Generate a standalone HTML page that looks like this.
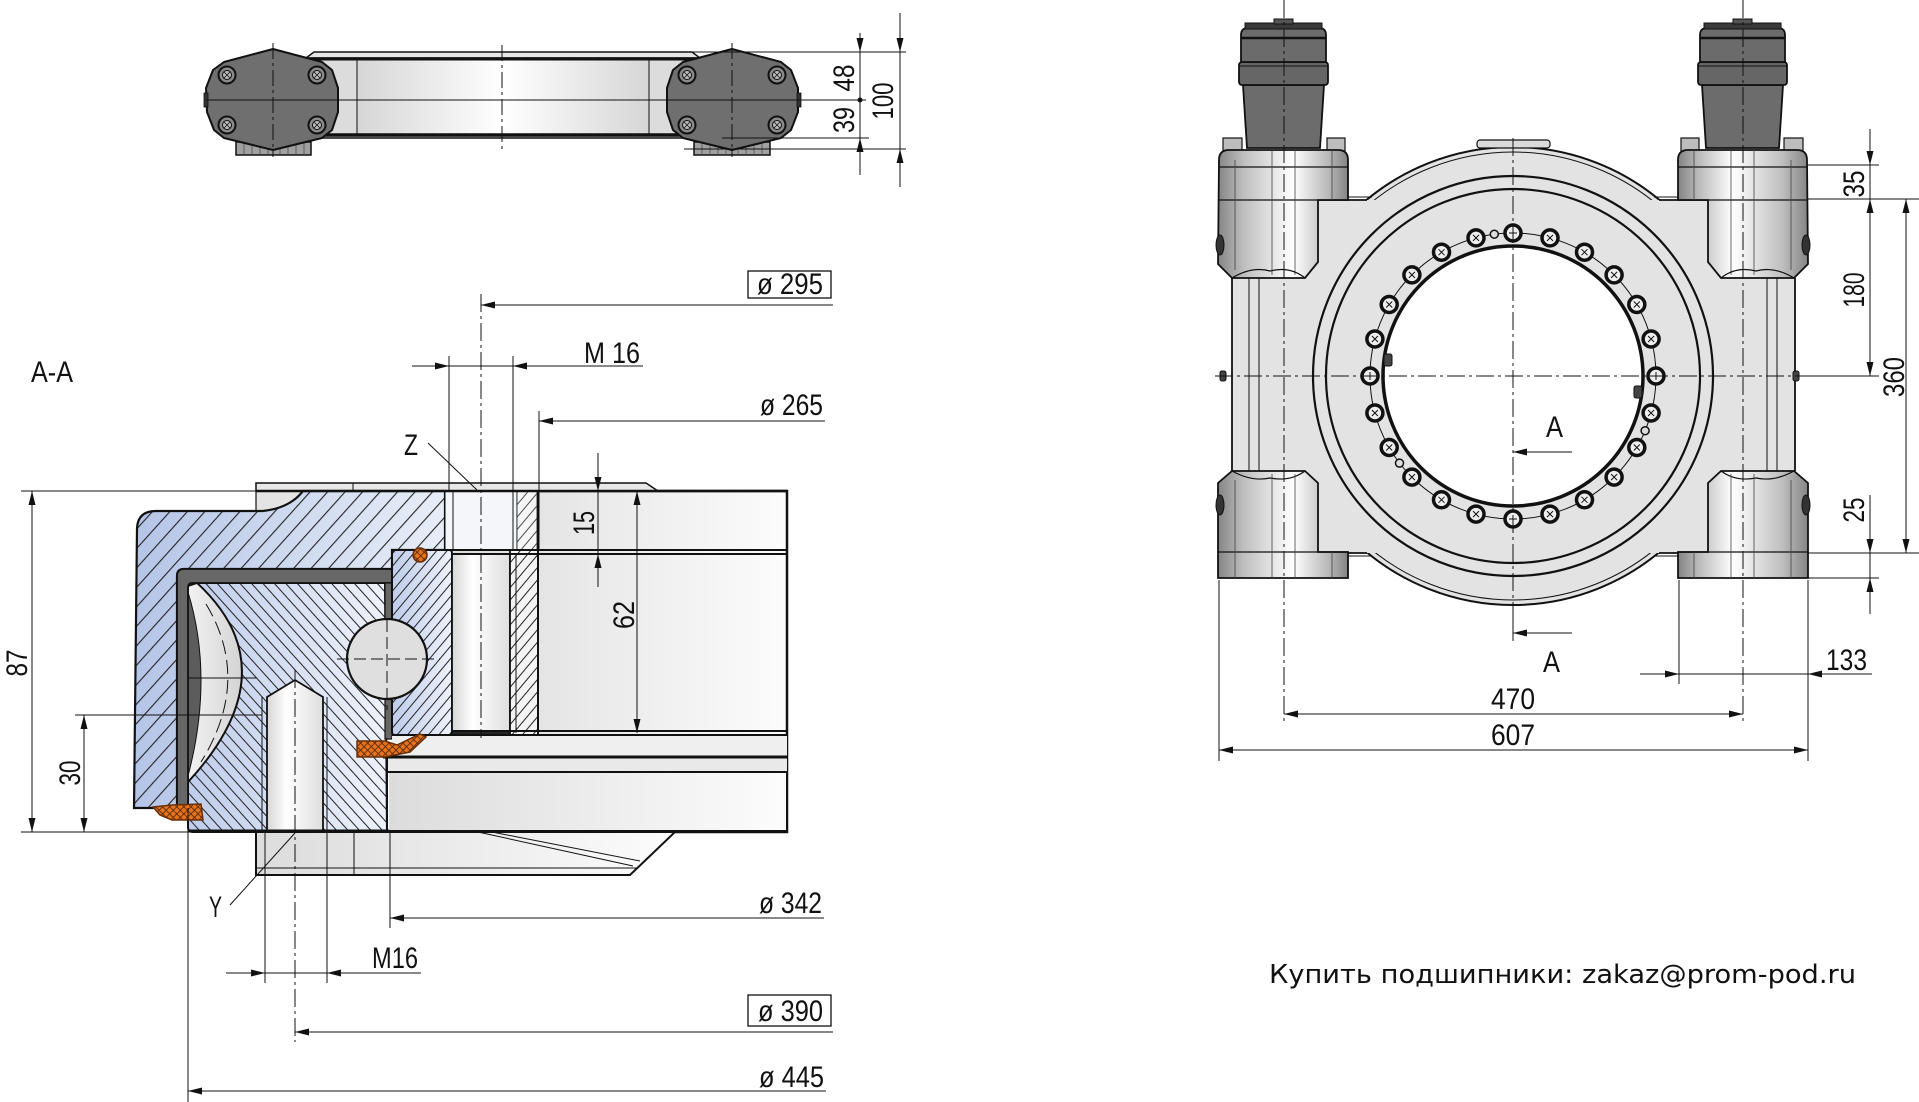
<!DOCTYPE html>
<html><head><meta charset="utf-8"><style>
html,body{margin:0;padding:0;background:#fff;}
svg{display:block;}
text{font-family:"Liberation Sans",sans-serif;fill:#111;}
</style></head><body>
<svg width="1919" height="1102" viewBox="0 0 1919 1102" xmlns="http://www.w3.org/2000/svg" xmlns:xlink="http://www.w3.org/1999/xlink">
<defs>
<linearGradient id="blue" x1="0" x2="1"><stop offset="0" stop-color="#b5c5e7"/><stop offset="1" stop-color="#e8eef8"/></linearGradient>
<linearGradient id="blue2" x1="0" x2="1"><stop offset="0" stop-color="#bfcdeb"/><stop offset="1" stop-color="#eef2fa"/></linearGradient>
<linearGradient id="lg" x1="0" x2="1"><stop offset="0" stop-color="#dcdcdc"/><stop offset="1" stop-color="#fcfcfc"/></linearGradient>
<linearGradient id="hole" x1="0" x2="1"><stop offset="0" stop-color="#d6d6d6"/><stop offset="0.35" stop-color="#ffffff"/><stop offset="1" stop-color="#dedede"/></linearGradient>
<linearGradient id="hous" x1="0" x2="1"><stop offset="0" stop-color="#858585"/><stop offset="0.2" stop-color="#bfbfbf"/><stop offset="0.5" stop-color="#f2f2f2"/><stop offset="0.58" stop-color="#ffffff"/><stop offset="0.85" stop-color="#b8b8b8"/><stop offset="1" stop-color="#838383"/></linearGradient>
<linearGradient id="topc" x1="0" x2="1"><stop offset="0" stop-color="#d6d6d6"/><stop offset="0.5" stop-color="#ffffff"/><stop offset="1" stop-color="#d6d6d6"/></linearGradient>
<linearGradient id="cres" x1="0" x2="1"><stop offset="0" stop-color="#f2f2f2"/><stop offset="1" stop-color="#d4d4d4"/></linearGradient>
<pattern id="hA" width="13" height="13" patternUnits="userSpaceOnUse" patternTransform="rotate(42)"><rect x="0" y="0" width="1.1" height="13" fill="#222"/></pattern>
<pattern id="hB" width="8.5" height="8.5" patternUnits="userSpaceOnUse" patternTransform="rotate(-42)"><rect x="0" y="0" width="1" height="8.5" fill="#222"/></pattern>
<pattern id="hC" width="8" height="8" patternUnits="userSpaceOnUse" patternTransform="rotate(40)"><rect x="0" y="0" width="1" height="8" fill="#222"/></pattern>
<pattern id="xh" width="5" height="5" patternUnits="userSpaceOnUse" patternTransform="rotate(45)"><rect width="5" height="5" fill="#e8731d"/><rect x="0" y="0" width="0.9" height="5" fill="#5a2a08"/><rect x="0" y="0" width="5" height="0.9" fill="#5a2a08"/></pattern>
<g id="bx"><circle r="8" fill="#eeeeee" stroke="#111" stroke-width="3.5"/><path d="M-3,-3L3,3M-3,3L3,-3" stroke="#111" stroke-width="1"/></g>
<g id="bp"><circle r="8" fill="#eeeeee" stroke="#111" stroke-width="3.5"/><path d="M-4,0H4M0,-4V4" stroke="#111" stroke-width="1"/></g>
<g id="tb"><circle r="8.5" fill="#8a8a8a" stroke="#111" stroke-width="2"/><circle r="4.5" fill="#bbb" stroke="#111" stroke-width="1"/><path d="M-3,-3L3,3M-3,3L3,-3" stroke="#111" stroke-width="0.8"/></g>
</defs>

<!-- ================= TOP VIEW ================= -->
<g stroke="#111">
  <polygon points="306,58 314,52 692,52 700,58" fill="#e6e6e6" stroke-width="1.5"/>
  <rect x="310" y="58" width="390" height="80" fill="#dcdcdc" stroke-width="1.5"/>
  <rect x="357" y="60" width="292" height="74" fill="url(#topc)" stroke-width="1"/>
  <line x1="310" y1="59" x2="700" y2="59" stroke-width="3"/>
  <line x1="310" y1="135" x2="700" y2="135" stroke-width="3.5"/>
  <!-- feet -->
  <rect x="236" y="142" width="75" height="13" fill="#a0a0a0" stroke-width="1.5"/>
  <rect x="694" y="142" width="76" height="13" fill="#a0a0a0" stroke-width="1.5"/>
  <path d="M244 143V155M252 143V155M260 143V155M268 143V155M280 143V155M288 143V155M296 143V155M304 143V155M702 143V155M710 143V155M718 143V155M726 143V155M738 143V155M746 143V155M754 143V155M762 143V155" stroke-width="0.7" stroke="#444"/>
  <!-- blocks -->
  <polygon points="273,49 322,62 332,70 338,88 338,112 332,130 322,138 273,150 224,138 214,130 207,112 206,88 213,70 224,62" fill="#6f6f6f" stroke-width="2" stroke-linejoin="round"/>
  <polygon points="732,49 781,62 791,70 798,88 798,112 791,130 781,138 732,150 683,138 673,130 667,112 667,88 673,70 683,62" fill="#6f6f6f" stroke-width="2" stroke-linejoin="round"/>
  <rect x="204" y="93" width="4" height="14" fill="#333" stroke-width="0.8"/>
  <rect x="797" y="93" width="4" height="14" fill="#333" stroke-width="0.8"/>
</g>
<use xlink:href="#tb" x="227" y="75"/><use xlink:href="#tb" x="317" y="75"/><use xlink:href="#tb" x="227" y="125"/><use xlink:href="#tb" x="317" y="125"/>
<use xlink:href="#tb" x="687" y="75"/><use xlink:href="#tb" x="777" y="75"/><use xlink:href="#tb" x="687" y="125"/><use xlink:href="#tb" x="777" y="125"/>
<g stroke="#111" stroke-width="1" fill="none">
  <line x1="206" y1="100" x2="866" y2="100"/>
  <path d="M273 43V157M732 43V157M502 45V150" stroke-dasharray="16 4 3 4"/>
  <line x1="692" y1="52" x2="906" y2="52"/>
  <line x1="722" y1="138" x2="869" y2="138"/>
  <line x1="684" y1="149" x2="906" y2="149"/>
  <line x1="860" y1="33" x2="860" y2="175"/>
  <line x1="900" y1="13" x2="900" y2="187"/>
</g>
<circle cx="860" cy="100" r="2.5" fill="#111"/>
<g fill="#111">
  <polygon points="860,52 856.5,38 863.5,38"/><polygon points="860,138 856.5,152 863.5,152"/>
  <polygon points="900,52 896.5,38 903.5,38"/><polygon points="900,149 896.5,163 903.5,163"/>
</g>
<g font-size="30">
  <text x="854" y="78" text-anchor="middle" transform="rotate(-90 854 78)" textLength="27" lengthAdjust="spacingAndGlyphs">48</text>
  <text x="854" y="120" text-anchor="middle" transform="rotate(-90 854 120)" textLength="26" lengthAdjust="spacingAndGlyphs">39</text>
  <text x="893" y="101" text-anchor="middle" transform="rotate(-90 893 101)" textLength="37" lengthAdjust="spacingAndGlyphs">100</text>
</g>

<!-- ================= SECTION A-A ================= -->
<text x="31" y="382" font-size="30" textLength="42" lengthAdjust="spacingAndGlyphs">A-A</text>

<rect x="445" y="491" width="342" height="341" fill="url(#lg)" stroke="#111" stroke-width="2.5"/>
<polygon points="256,483 646,483 658,491 256,491" fill="#e8e8e8" stroke="#111" stroke-width="1.5"/>
<line x1="353" y1="483" x2="353" y2="491" stroke="#111" stroke-width="1"/>
<path d="M256 491 L303 491 Q290 508 263 511 L256 511 Z" fill="#e4e4e4" stroke="#111" stroke-width="1.2"/>
<path d="M303 491 L445 491 L445 550 L392 550 L392 569 L184 569 Q177 569 177 576 L177 808 L134 808 L137 528 Q138 511 156 511 L263 511 Q290 508 303 491 Z" fill="url(#blue)"/>
<path d="M303 491 L445 491 L445 550 L392 550 L392 569 L184 569 Q177 569 177 576 L177 808 L134 808 L137 528 Q138 511 156 511 L263 511 Q290 508 303 491 Z" fill="url(#hA)" stroke="#111" stroke-width="2.2"/>
<path d="M197 583 L385 583 L387 832 L193 832 Q188 832 188 827 L188 782 Q291 670 197 583 Z" fill="url(#blue2)"/>
<path d="M197 583 L385 583 L387 832 L193 832 Q188 832 188 827 L188 782 Q291 670 197 583 Z" fill="url(#hB)" stroke="#111" stroke-width="2"/>
<path d="M188 586 L197 583 Q291 670 188 782 Z" fill="url(#cres)" stroke="#111" stroke-width="1.8"/>
<path d="M188 592 Q214 677 188 776 Z" fill="#5c5c5c" stroke="#111" stroke-width="1"/>
<path d="M206 604 Q252 680 201 762" fill="none" stroke="#111" stroke-width="1" stroke-dasharray="14 6"/>
<line x1="177" y1="678" x2="257" y2="678" stroke="#111" stroke-width="1"/>
<path d="M177 808 L177 576 Q177 569 184 569 L392 569 L392 583 L192 583 Q188 583 188 588 L188 808 Z" fill="#676767" stroke="#111" stroke-width="1.8"/>
<rect x="385" y="583" width="7" height="156" fill="#676767" stroke="#111" stroke-width="1.2"/>
<path d="M267 832 L267 697 L295 680 L323 697 L323 832 Z" fill="url(#hole)" stroke="#111" stroke-width="1.8"/>
<path d="M262 697V832M327 697V832" stroke="#111" stroke-width="1"/>
<rect x="392" y="550" width="60" height="185" rx="3" fill="url(#blue2)"/>
<rect x="392" y="550" width="60" height="185" rx="3" fill="url(#hC)" stroke="#111" stroke-width="2"/>
<circle cx="387" cy="659" r="40" fill="#dfdfdf" stroke="#111" stroke-width="2.2"/>
<path d="M337 659H440M387 620V710" stroke="#111" stroke-width="1" stroke-dasharray="12 5"/>
<rect x="445" y="491" width="72" height="59" fill="#f4f6fa" stroke="#111" stroke-width="1"/>
<rect x="517" y="491" width="20" height="59" fill="#f6f6f6"/>
<rect x="517" y="491" width="20" height="59" fill="url(#hC)" stroke="#111" stroke-width="1" opacity="0.8"/>
<path d="M453 491V550M513 491V550" stroke="#111" stroke-width="1"/>
<rect x="452" y="554" width="58" height="179" fill="url(#hole)" stroke="#111" stroke-width="1.8"/>
<rect x="510" y="550" width="28" height="185" fill="#f4f4f4"/>
<rect x="510" y="550" width="28" height="185" fill="url(#hC)" stroke="#111" stroke-width="1.8"/>
<line x1="516" y1="554" x2="516" y2="733" stroke="#111" stroke-width="1"/>
<g stroke="#111">
  <line x1="392" y1="550" x2="787" y2="550" stroke-width="2"/>
  <line x1="452" y1="554" x2="787" y2="554" stroke-width="2"/>
  <line x1="452" y1="731" x2="787" y2="731" stroke-width="2"/>
  <line x1="392" y1="735" x2="787" y2="735" stroke-width="2"/>
  <line x1="383" y1="757" x2="787" y2="757" stroke-width="3"/>
  <line x1="388" y1="772" x2="787" y2="772" stroke-width="2"/>
  <line x1="188" y1="831" x2="787" y2="831" stroke-width="3"/>
  <line x1="256" y1="491" x2="787" y2="491" stroke-width="2.5"/>
  <line x1="538" y1="491" x2="538" y2="735" stroke-width="2"/>
</g>
<rect x="392" y="736" width="395" height="20" fill="#efefef" stroke="none"/>
<rect x="388" y="758" width="399" height="13" fill="#e9e9e9"/>
<rect x="389" y="773" width="397" height="57" fill="url(#lg)"/>
<line x1="383" y1="757" x2="787" y2="757" stroke="#111" stroke-width="3"/>
<line x1="388" y1="772" x2="787" y2="772" stroke="#111" stroke-width="2"/>
<line x1="392" y1="735" x2="787" y2="735" stroke="#111" stroke-width="2"/>
<line x1="387" y1="757" x2="387" y2="832" stroke="#111" stroke-width="2"/>
<circle cx="420" cy="555" r="7" fill="url(#xh)" stroke="#6a2e08" stroke-width="1.5"/>
<path d="M357 741 L385 741 L397 745 L420 734 L426 737 L410 752 L385 757 L357 757 Z" fill="url(#xh)" stroke="#6a2e08" stroke-width="1.5"/>
<path d="M153 807 L172 805 L201 804 L203 820 L172 820 L160 815 Z" fill="url(#xh)" stroke="#6a2e08" stroke-width="1.5"/>
<path d="M256 832 L675 832 L630 875 L256 875 Z" fill="url(#lg)" stroke="#111" stroke-width="2"/>
<g stroke="#111" stroke-width="1">
  <line x1="256" y1="868" x2="637" y2="868"/>
  <path d="M265 832V875M327 832V875M354 832V875M390 832V875"/>
  <path d="M478 832L633 866M492 832L640 861"/>
</g>

<g stroke="#111" stroke-width="1" fill="none">
  <path d="M481 294V738M295 670V1042" stroke-dasharray="18 4 3 4"/>
  <line x1="481" y1="305" x2="833" y2="305"/>
  <path d="M449 356V491M513 356V491"/>
  <line x1="412" y1="366" x2="643" y2="366"/>
  <line x1="539" y1="411" x2="539" y2="550"/>
  <line x1="539" y1="421" x2="825" y2="421"/>
  <line x1="428" y1="443" x2="477" y2="490"/>
  <line x1="598" y1="453" x2="598" y2="587"/>
  <line x1="637" y1="491" x2="637" y2="733"/>
  <line x1="21" y1="491" x2="256" y2="491"/>
  <line x1="21" y1="832" x2="190" y2="832"/>
  <line x1="32" y1="491" x2="32" y2="832"/>
  <line x1="75" y1="715" x2="262" y2="715"/>
  <line x1="84" y1="715" x2="84" y2="832"/>
  <line x1="390" y1="875" x2="390" y2="928"/>
  <line x1="390" y1="918" x2="824" y2="918"/>
  <path d="M265 875V983M327 875V983"/>
  <line x1="226" y1="973" x2="421" y2="973"/>
  <line x1="295" y1="1032" x2="833" y2="1032"/>
  <line x1="188" y1="808" x2="188" y2="1102"/>
  <line x1="188" y1="1091" x2="826" y2="1091"/>
  <line x1="230" y1="905" x2="295" y2="833"/>
  <rect x="748" y="271" width="83" height="27" stroke-width="1.3"/>
  <rect x="748" y="995" width="83" height="31" stroke-width="1.3"/>
</g>
<g fill="#111">
  <polygon points="481,305 495,301.5 495,308.5"/>
  <polygon points="449,366 435,362.5 435,369.5"/><polygon points="513,366 527,362.5 527,369.5"/>
  <polygon points="539,421 553,417.5 553,424.5"/>
  <polygon points="598,491 594.5,477 601.5,477"/><polygon points="598,554 594.5,568 601.5,568"/>
  <polygon points="637,491 633.5,505 640.5,505"/><polygon points="637,733 633.5,719 640.5,719"/>
  <polygon points="32,491 28.5,505 35.5,505"/><polygon points="32,832 28.5,818 35.5,818"/>
  <polygon points="84,715 80.5,729 87.5,729"/><polygon points="84,832 80.5,818 87.5,818"/>
  <polygon points="390,918 404,914.5 404,921.5"/>
  <polygon points="265,973 251,969.5 251,976.5"/><polygon points="327,973 341,969.5 341,976.5"/>
  <polygon points="295,1032 309,1028.5 309,1035.5"/>
  <polygon points="188,1091 202,1087.5 202,1094.5"/>
</g>
<g font-size="30">
  <text x="757" y="294" textLength="66" lengthAdjust="spacingAndGlyphs">ø 295</text>
  <text x="584" y="363" textLength="56" lengthAdjust="spacingAndGlyphs">M 16</text>
  <text x="760" y="415" textLength="63" lengthAdjust="spacingAndGlyphs">ø 265</text>
  <text x="404" y="455" textLength="14" lengthAdjust="spacingAndGlyphs">Z</text>
  <text x="594" y="523" text-anchor="middle" transform="rotate(-90 594 523)" textLength="24" lengthAdjust="spacingAndGlyphs">15</text>
  <text x="634" y="615" text-anchor="middle" transform="rotate(-90 634 615)" textLength="28" lengthAdjust="spacingAndGlyphs">62</text>
  <text x="27" y="663" text-anchor="middle" transform="rotate(-90 27 663)" textLength="27" lengthAdjust="spacingAndGlyphs">87</text>
  <text x="80" y="773" text-anchor="middle" transform="rotate(-90 80 773)" textLength="25" lengthAdjust="spacingAndGlyphs">30</text>
  <text x="209" y="917" textLength="13" lengthAdjust="spacingAndGlyphs">Y</text>
  <text x="759" y="913" textLength="63" lengthAdjust="spacingAndGlyphs">ø 342</text>
  <text x="372" y="968" textLength="46" lengthAdjust="spacingAndGlyphs">M16</text>
  <text x="758" y="1021" textLength="65" lengthAdjust="spacingAndGlyphs">ø 390</text>
  <text x="759" y="1087" textLength="65" lengthAdjust="spacingAndGlyphs">ø 445</text>
</g>

<!-- ================= RIGHT VIEW ================= -->
<circle cx="1513" cy="376" r="229" fill="#e3e3e3" stroke="#111" stroke-width="2"/>
<circle cx="1513" cy="376" r="224" fill="none" stroke="#111" stroke-width="1"/>
<rect x="1477" y="140" width="73" height="8" rx="3" fill="#dadada" stroke="#111" stroke-width="1.2"/>
<rect x="1232" y="200" width="563" height="353" fill="#e3e3e3"/>
<g stroke="#111" stroke-width="1.8" fill="none">
  <path d="M1318 200H1367M1659 200H1708M1318 553H1367M1659 553H1708"/>
  <path d="M1333 197H1372M1654 197H1693M1333 556H1372M1654 556H1693" stroke-width="1"/>
  <line x1="1232" y1="278" x2="1232" y2="471"/>
  <line x1="1795" y1="278" x2="1795" y2="471"/>
  <path d="M1249 278V471M1259 278V471M1777 278V471M1767 278V471" stroke-width="1"/>
</g>
<circle cx="1513" cy="376" r="200" fill="none" stroke="#111" stroke-width="2.2"/>
<circle cx="1513" cy="376" r="187" fill="none" stroke="#111" stroke-width="2.2"/>
<circle cx="1513" cy="376" r="143" fill="none" stroke="#111" stroke-width="1"/>
<circle cx="1513" cy="376" r="130" fill="#fff" stroke="#111" stroke-width="3.5"/>
<use xlink:href="#bp" x="1513" y="233"/><use xlink:href="#bx" x="1550" y="237.9"/><use xlink:href="#bx" x="1584.5" y="252.2"/><use xlink:href="#bx" x="1614.1" y="274.9"/><use xlink:href="#bx" x="1636.8" y="304.5"/><use xlink:href="#bx" x="1651.1" y="339"/>
<use xlink:href="#bp" x="1656" y="376"/><use xlink:href="#bx" x="1651.1" y="413"/><use xlink:href="#bx" x="1636.8" y="447.5"/><use xlink:href="#bx" x="1614.1" y="477.1"/><use xlink:href="#bx" x="1584.5" y="499.8"/><use xlink:href="#bx" x="1550" y="514.1"/>
<use xlink:href="#bp" x="1513" y="519"/><use xlink:href="#bx" x="1476" y="514.1"/><use xlink:href="#bx" x="1441.5" y="499.8"/><use xlink:href="#bx" x="1411.9" y="477.1"/><use xlink:href="#bx" x="1389.2" y="447.5"/><use xlink:href="#bx" x="1374.9" y="413"/>
<use xlink:href="#bp" x="1370" y="376"/><use xlink:href="#bx" x="1374.9" y="339"/><use xlink:href="#bx" x="1389.2" y="304.5"/><use xlink:href="#bx" x="1411.9" y="274.9"/><use xlink:href="#bx" x="1441.5" y="252.2"/><use xlink:href="#bx" x="1476" y="237.9"/>
<g fill="#ddd" stroke="#111" stroke-width="1.5">
  <circle cx="1494.3" cy="234.2" r="4"/><circle cx="1645.1" cy="430.7" r="4"/><circle cx="1399.5" cy="463.1" r="4"/>
</g>
<g fill="#444" stroke="#111" stroke-width="1">
  <rect x="1384" y="354" width="8" height="12" rx="2"/><rect x="1634" y="386" width="8" height="12" rx="2"/>
  <rect x="1220" y="371" width="6" height="10" rx="2"/><rect x="1793" y="371" width="6" height="10" rx="2"/>
</g>

<g id="hw">
  <g stroke="#111">
    <rect x="1223" y="138" width="19" height="14" fill="#bdbdbd" stroke-width="1.2"/>
    <rect x="1327" y="138" width="18" height="14" fill="#bdbdbd" stroke-width="1.2"/>
    <path d="M1219 160 Q1219 150 1229 150 L1338 150 Q1348 150 1348 160 L1348 200 L1318 200 L1318 262 L1305 278 L1232 278 L1218 264 Z" fill="url(#hous)" stroke-width="1.8"/>
    <path d="M1219 167H1348M1219 200H1318" stroke-width="1.3"/>
    <path d="M1235 160V270M1272 150V275M1295 150V275M1332 150V200" stroke-width="0.8" stroke="#444"/>
    <path d="M1232 278 Q1252 266 1270 271 Q1290 266 1305 278" fill="none" stroke-width="1.2"/>
    <path d="M1232 471 L1305 471 L1318 483 L1318 552 L1348 552 L1348 578 L1218 578 L1218 483 Z" fill="url(#hous)" stroke-width="1.8"/>
    <path d="M1218 552H1348" stroke-width="1.3"/>
    <path d="M1232 471 Q1252 482 1270 478 Q1290 482 1305 471" fill="none" stroke-width="1.2"/>
    <path d="M1235 480V578M1272 474V578M1295 474V578M1332 552V578" stroke-width="0.8" stroke="#444"/>
    <ellipse cx="1220" cy="245" rx="4" ry="10" fill="#333" stroke-width="1"/>
    <ellipse cx="1220" cy="505" rx="4" ry="10" fill="#333" stroke-width="1"/>
    <path d="M1243 85 L1324 85 L1320 148 L1247 148 Z" fill="#6c6c6c" stroke-width="1.8"/>
    <rect x="1239" y="62" width="89" height="23" rx="3" fill="#666" stroke-width="1.8"/>
    <path d="M1241 62 L1241 35 Q1241 28 1248 28 L1319 28 Q1326 28 1326 35 L1326 62 Z" fill="#6b6b6b" stroke-width="1.8"/>
    <line x1="1241" y1="38" x2="1326" y2="38" stroke-width="2.5"/>
    <line x1="1239" y1="66" x2="1328" y2="66" stroke-width="1"/>
    <rect x="1245" y="23" width="77" height="6" fill="#3a3a3a" stroke-width="1"/>
    <rect x="1274" y="19" width="19" height="5" fill="#555" stroke-width="1"/>
  </g>
</g>
<use xlink:href="#hw" transform="matrix(-1 0 0 1 3026 0)"/>

<g stroke="#111" stroke-width="1" fill="none">
  <path d="M1284 0V725M1743 0V725" stroke-dasharray="18 4 3 4"/>
  <path d="M1215 376H1808M1513 138V610" stroke-dasharray="18 4 3 4"/>
  <line x1="1808" y1="376" x2="1879" y2="376"/>
  <line x1="1513" y1="610" x2="1513" y2="641"/>
  <line x1="1513" y1="452" x2="1572" y2="452"/>
  <line x1="1513" y1="633" x2="1572" y2="633"/>
  <line x1="1808" y1="165" x2="1879" y2="165"/>
  <line x1="1808" y1="199" x2="1919" y2="199"/>
  <line x1="1808" y1="553" x2="1919" y2="553"/>
  <line x1="1808" y1="578" x2="1879" y2="578"/>
  <line x1="1870" y1="129" x2="1870" y2="376"/>
  <line x1="1870" y1="495" x2="1870" y2="614"/>
  <line x1="1906" y1="199" x2="1906" y2="553"/>
  <line x1="1219" y1="580" x2="1219" y2="761"/>
  <line x1="1808" y1="580" x2="1808" y2="761"/>
  <line x1="1679" y1="580" x2="1679" y2="684"/>
  <line x1="1640" y1="674" x2="1872" y2="674"/>
  <line x1="1284" y1="714" x2="1743" y2="714"/>
  <line x1="1219" y1="750" x2="1808" y2="750"/>
</g>
<g fill="#111">
  <polygon points="1513,452 1527,448.5 1527,455.5"/><polygon points="1513,633 1527,629.5 1527,636.5"/>
  <polygon points="1870,165 1866.5,151 1873.5,151"/><polygon points="1870,199 1866.5,213 1873.5,213"/><polygon points="1870,376 1866.5,362 1873.5,362"/>
  <polygon points="1906,199 1902.5,213 1909.5,213"/><polygon points="1906,553 1902.5,539 1909.5,539"/>
  <polygon points="1870,553 1866.5,539 1873.5,539"/><polygon points="1870,578 1866.5,592 1873.5,592"/>
  <polygon points="1679,674 1665,670.5 1665,677.5"/><polygon points="1808,674 1822,670.5 1822,677.5"/>
  <polygon points="1284,714 1298,710.5 1298,717.5"/><polygon points="1743,714 1729,710.5 1729,717.5"/>
  <polygon points="1219,750 1233,746.5 1233,753.5"/><polygon points="1808,750 1794,746.5 1794,753.5"/>
</g>
<g font-size="30">
  <text x="1546" y="437" textLength="17" lengthAdjust="spacingAndGlyphs">A</text>
  <text x="1543" y="672" textLength="17" lengthAdjust="spacingAndGlyphs">A</text>
  <text x="1864" y="184" text-anchor="middle" transform="rotate(-90 1864 184)" textLength="27" lengthAdjust="spacingAndGlyphs">35</text>
  <text x="1864" y="290" text-anchor="middle" transform="rotate(-90 1864 290)" textLength="35" lengthAdjust="spacingAndGlyphs">180</text>
  <text x="1904" y="377" text-anchor="middle" transform="rotate(-90 1904 377)" textLength="40" lengthAdjust="spacingAndGlyphs">360</text>
  <text x="1864" y="510" text-anchor="middle" transform="rotate(-90 1864 510)" textLength="25" lengthAdjust="spacingAndGlyphs">25</text>
  <text x="1826" y="670" textLength="41" lengthAdjust="spacingAndGlyphs">133</text>
  <text x="1513" y="709" text-anchor="middle" textLength="44" lengthAdjust="spacingAndGlyphs">470</text>
  <text x="1513" y="745" text-anchor="middle" textLength="44" lengthAdjust="spacingAndGlyphs">607</text>
</g>

<text x="1269" y="983" font-size="26" style="font-family:'DejaVu Sans','Liberation Sans',sans-serif" fill="#222" textLength="587" lengthAdjust="spacingAndGlyphs">Купить подшипники: zakaz@prom-pod.ru</text>
</svg>
</body></html>
